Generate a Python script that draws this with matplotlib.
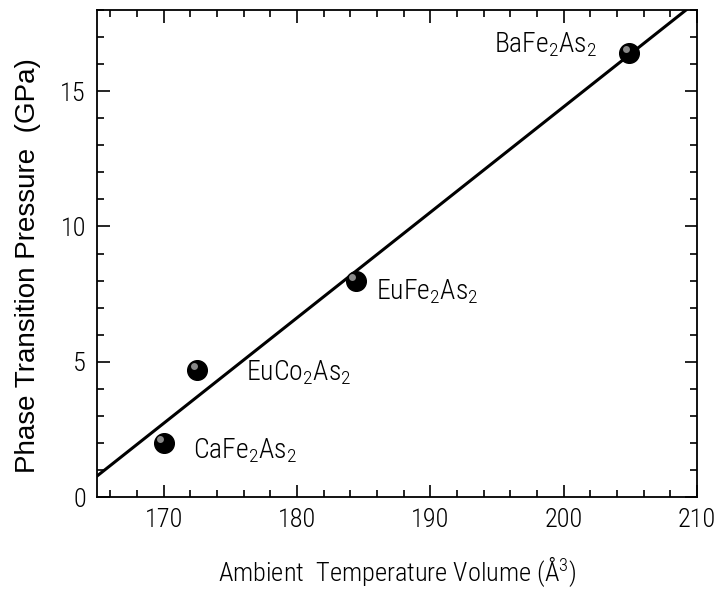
import numpy as np
import matplotlib
matplotlib.use('Agg')
import matplotlib.pyplot as plt
from matplotlib.ticker import MultipleLocator

plt.rcParams['font.family'] = ['Roboto Condensed', 'DejaVu Sans']
plt.rcParams['font.weight'] = 'light'
plt.rcParams['mathtext.fontset'] = 'custom'
plt.rcParams['mathtext.rm'] = 'Roboto Condensed:light'
plt.rcParams['mathtext.default'] = 'rm'

compounds = ['CaFe$_2$As$_2$', 'EuCo$_2$As$_2$', 'EuFe$_2$As$_2$', 'BaFe$_2$As$_2$']
volume = [170.0, 172.5, 184.4, 204.9]
pressure = [2.0, 4.7, 8.0, 16.4]
label_xy = [(172.2, 1.7), (176.2, 4.6), (185.9, 7.6), (194.8, 16.7)]

fig = plt.figure(figsize=(7.14, 5.91), dpi=100)
ax = fig.add_axes([0.136, 0.159, 0.84, 0.824])

# linear fit through the four compounds
slope, icpt = np.polyfit(volume, pressure, 1)
xs = np.array([165, 212])
ax.plot(xs, slope * xs + icpt, color='black', lw=2.2, zorder=2)

# shaded ball markers
ax.scatter(volume, pressure, s=200, color='black', zorder=3)
ax.scatter(np.array(volume) - 0.25, np.array(pressure) + 0.15, s=25,
           color='#888888', zorder=4, linewidths=0)

for name, (tx, ty) in zip(compounds, label_xy):
    ax.text(tx, ty, name, fontsize=20, va='center', ha='left')

ax.set_xlim(165, 210)
ax.set_ylim(0, 18)
ax.xaxis.set_major_locator(MultipleLocator(10))
ax.xaxis.set_minor_locator(MultipleLocator(2))
ax.yaxis.set_major_locator(MultipleLocator(5))
ax.yaxis.set_minor_locator(MultipleLocator(1))
ax.tick_params(which='both', direction='in', top=True, right=True, width=1.2)
ax.tick_params(which='major', length=9, labelsize=19, pad=8)
ax.tick_params(which='minor', length=5)
for sp in ax.spines.values():
    sp.set_linewidth(1.3)

ax.set_xlabel('Ambient  Temperature Volume (Å$^3$)', fontsize=19, labelpad=16,
              weight='light')
ax.set_ylabel('Phase Transition Pressure  (GPa)', fontsize=20, labelpad=14,
              family=['Liberation Sans', 'DejaVu Sans'], weight='normal', y=0.475)

fig.savefig('out.png', dpi=100)
